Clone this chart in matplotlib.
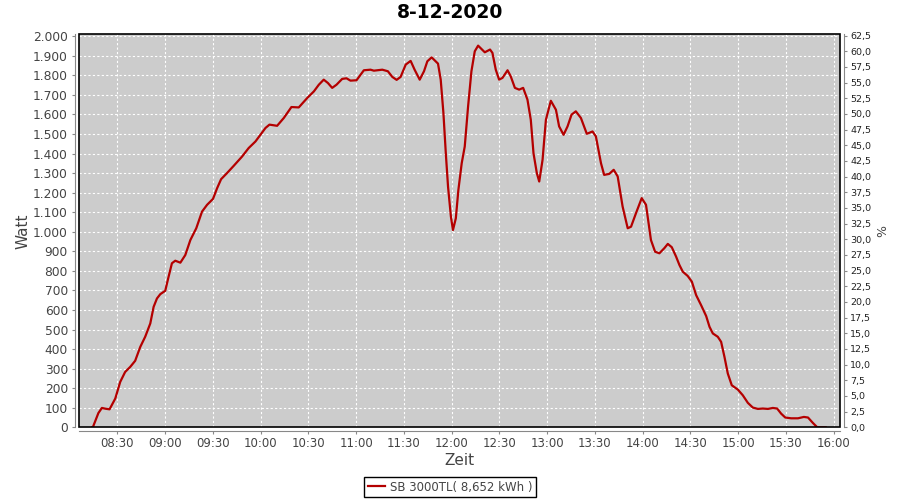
import matplotlib
matplotlib.use('Agg')
import matplotlib.pyplot as plt
import matplotlib.dates as mdates
from matplotlib.ticker import MultipleLocator, FuncFormatter
from matplotlib.patches import Rectangle
import numpy as np
import pandas as pd

# daten: minuten nach 08:00 und leistung in watt
minuten = [14, 14.5, 18, 20.2, 22.5, 25, 28.6, 31.7, 34.8, 38, 41.1, 44.3, 47.4, 50.6,
           52.7, 54.8, 56.9, 60, 62.1, 64.2, 66.3, 69.5, 72.6, 75.8, 79.5, 83.1, 86.3,
           90, 92.6, 95.1, 98.8, 103, 108.3, 112.4, 116.7, 119.8, 123, 125.5, 130.3,
           134.5, 139.3, 143.9, 149.2, 153.4, 156.5, 159.6, 162.2, 164.9, 167.6, 171.2,
           173.9, 176.4, 180.2, 184.8, 189, 191.1, 196.4, 199.9, 202.7, 205.4, 207.9,
           211.1, 214.2, 216.7, 219.9, 222.6, 224.7, 227.4, 231.4, 233.1, 234.8, 236.3,
           237.7, 239.5, 240.8, 242.6, 244.2, 246.3, 248.2, 250.3, 252.4, 254.5, 256.6,
           258.7, 260.8, 264.1, 265.6, 267.7, 269.8, 271.9, 275.1, 277.1, 279.7, 282.4,
           284.9, 287.6, 289.7, 291.4, 293.5, 295, 297.1, 299.2, 302.3, 305.5, 307.5,
           310.3, 312.8, 315.3, 318, 321.2, 324.9, 328.5, 330.6, 333.8, 335.8, 339,
           341.8, 344.3, 347.4, 350.6, 352.7, 355.8, 359.4, 362.1, 365.2, 367.8, 370.5,
           373.6, 375.8, 378.3, 381, 383.1, 385.2, 388.3, 390.9, 393.6, 396.7, 399.9,
           402, 404.1, 407.2, 409.3, 411.4, 413.5, 416, 419.8, 422.9, 426.1, 429.2,
           432.4, 435.5, 438.7, 441.8, 444.5, 447, 449.6, 453.3, 457.6, 461.3, 463.9,
           467, 469.7, 475]
watt = [0, 0, 73, 99, 95, 92, 147, 232, 283, 309, 340, 411, 463, 531,
        616, 659, 681, 698, 770, 839, 852, 842, 881, 958, 1018, 1103, 1138,
        1168, 1223, 1269, 1300, 1337, 1385, 1428, 1462, 1496, 1531, 1548, 1542,
        1582, 1638, 1636, 1684, 1718, 1752, 1778, 1761, 1736, 1752, 1782,
        1785, 1773, 1775, 1826, 1829, 1824, 1829, 1821, 1792, 1777, 1792,
        1855, 1874, 1829, 1778, 1821, 1872, 1892, 1860, 1778, 1607, 1402,
        1231, 1078, 1009, 1069, 1214, 1351, 1436, 1641, 1821, 1923, 1952,
        1935, 1918, 1932, 1915, 1829, 1778, 1787, 1826, 1795, 1736, 1727,
        1736, 1676, 1573, 1402, 1300, 1257, 1368, 1573, 1670, 1624, 1539,
        1496, 1539, 1599, 1616, 1582, 1501, 1513, 1488, 1351, 1291, 1296,
        1317, 1283, 1129, 1018, 1026, 1095, 1172, 1138, 958, 898, 890,
        916, 938, 921, 873, 830, 796, 774, 745, 676, 625, 569,
        514, 480, 463, 437, 360, 275, 215, 193, 164, 125, 101,
        94, 96, 94, 99, 96, 70, 50, 46, 46, 53, 50,
        22, 0, 0]
datum = '2020-12-08'
titel = '8-12-2020'
serie = 'SB 3000TL( 8,652 kWh )'

grau = '#444444'
achse = '#888888'
plt.rcParams['font.family'] = 'DejaVu Sans'

tag = pd.Timestamp(datum)
zeiten = (tag + pd.Timedelta(hours=8) + pd.to_timedelta(np.array(minuten), unit='m')).to_numpy()

fig = plt.figure(figsize=(9, 5), dpi=100)
ax = fig.add_axes([79.3/900, 1-427.3/500, (840-79.3)/900, (427.3-34.3)/500])
ax.set_facecolor('#cccccc')

ax.plot(zeiten, watt, color='#b40000', lw=1.6, zorder=3, label=serie)

ax.set_xlim(tag + pd.Timedelta(hours=8, minutes=6), tag + pd.Timedelta(hours=16, minutes=4))
ax.set_ylim(0, 2010)
ax.xaxis.set_major_locator(mdates.MinuteLocator(byminute=[0, 30]))
ax.xaxis.set_major_formatter(mdates.DateFormatter('%H:%M'))
ax.yaxis.set_major_locator(MultipleLocator(100))
ax.yaxis.set_major_formatter(FuncFormatter(lambda v, p: f'{v:,.0f}'.replace(',', '.')))
ax.grid(True, color='white', ls=(0, (2, 2)), lw=0.8)
ax.set_axisbelow(True)

for s in ['left', 'bottom']:
    ax.spines[s].set_position(('outward', 3))
    ax.spines[s].set_color(achse)
ax.spines['top'].set_visible(False)
ax.spines['right'].set_visible(False)
ax.add_patch(Rectangle((0, 0), 1, 1, transform=ax.transAxes, fill=False,
                       ec='black', lw=1.2, clip_on=False, zorder=5))
ax.tick_params(axis='y', labelsize=8.8, colors=achse, labelcolor=grau, length=2.2, pad=3)
ax.tick_params(axis='x', labelsize=8.5, colors=achse, labelcolor=grau, length=2.2, pad=2)
ax.set_ylabel('Watt', fontsize=11, color=grau, labelpad=2)
ax.set_xlabel('Zeit', fontsize=11, color=grau, labelpad=2)

ax2 = ax.twinx()
ax2.set_ylim(0, 62.7)
ax2.yaxis.set_major_locator(MultipleLocator(2.5))
ax2.yaxis.set_major_formatter(FuncFormatter(lambda v, p: f'{v:.1f}'.replace('.', ',')))
for s in ['left', 'bottom', 'top']:
    ax2.spines[s].set_visible(False)
ax2.spines['right'].set_position(('outward', 3))
ax2.spines['right'].set_color(achse)
ax2.tick_params(axis='y', labelsize=6.8, colors=achse, labelcolor='#222222', length=2.2, pad=2)
ax2.set_ylabel('%', fontsize=9, color=grau, labelpad=4)

fig.suptitle(titel, fontsize=13.5, fontweight='bold', y=1-12.5/500, va='center')

leg = fig.legend(loc='center', bbox_to_anchor=(450/900, 1-487/500), fontsize=8.5,
                 fancybox=False, edgecolor='black', framealpha=1, handlelength=1.5,
                 borderpad=0.3, handletextpad=0.4, labelcolor=grau)
leg.get_frame().set_linewidth(1)
fig.savefig('out.png', dpi=100)
